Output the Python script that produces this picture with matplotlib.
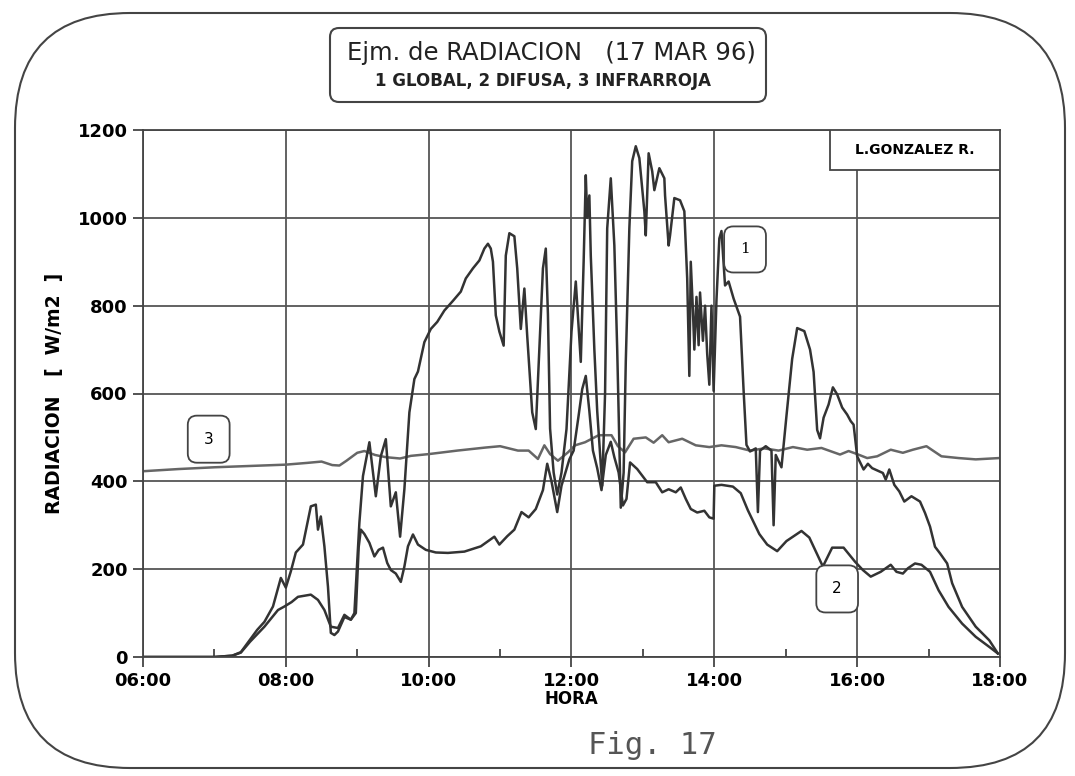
import matplotlib
matplotlib.use("Agg")
import matplotlib.pyplot as plt
from matplotlib.patches import FancyBboxPatch, Rectangle

# ----------------------------
# DATA (hours, W/m2)
# ----------------------------
global_t = [6.0, 7.0, 7.25, 7.37, 7.5, 7.6, 7.7, 7.82, 7.93, 8.0, 8.07, 8.14, 8.24, 8.35, 8.42,
            8.45, 8.49, 8.54, 8.59, 8.63, 8.68, 8.73, 8.82, 8.91, 8.96, 9.03, 9.08, 9.17, 9.26,
            9.33, 9.40, 9.47, 9.54, 9.60, 9.66, 9.73, 9.80, 9.85, 9.94, 10.03, 10.12, 10.22,
            10.34, 10.45, 10.52, 10.62, 10.71, 10.78, 10.83, 10.87, 10.90, 10.94, 10.99, 11.05,
            11.08, 11.13, 11.20, 11.24, 11.29, 11.34, 11.38, 11.45, 11.50, 11.55, 11.60, 11.64,
            11.67, 11.70, 11.75, 11.80, 11.86, 11.93, 12.0, 12.06, 12.13, 12.17, 12.20, 12.22,
            12.25, 12.27, 12.32, 12.36, 12.43, 12.47, 12.50, 12.55, 12.60, 12.64, 12.69, 12.73,
            12.76, 12.81, 12.85, 12.90, 12.95, 13.02, 13.04, 13.08, 13.13, 13.16, 13.23, 13.30,
            13.31, 13.36, 13.38, 13.44, 13.52, 13.58, 13.62, 13.65, 13.67, 13.70, 13.72, 13.75,
            13.78, 13.80, 13.84, 13.87, 13.90, 13.93, 13.96, 13.99, 14.03, 14.07, 14.10, 14.15,
            14.20, 14.27, 14.36, 14.41, 14.45, 14.50, 14.58, 14.61, 14.64, 14.72, 14.80, 14.83,
            14.86, 14.94, 15.01, 15.09, 15.16, 15.26, 15.34, 15.39, 15.44, 15.48, 15.53, 15.60,
            15.66, 15.72, 15.79, 15.86, 15.91, 15.95, 16.0, 16.09, 16.15, 16.21, 16.36, 16.40,
            16.45, 16.52, 16.59, 16.66, 16.76, 16.88, 16.95, 17.02, 17.09, 17.16, 17.26, 17.33,
            17.47, 17.66, 17.85, 17.97]
global_v = [0, 0, 3, 11, 40, 62, 80, 115, 180, 158, 195, 238, 256, 343, 347,
            290, 320, 252, 160, 55, 50, 58, 91, 85, 100, 306, 412, 489, 366,
            457, 496, 343, 375, 274, 382, 557, 633, 650, 717, 747, 763, 789,
            811, 832, 862, 885, 903, 930, 941, 930, 900, 778, 741, 709,
            914, 965, 958, 885, 747, 839, 731, 557, 519, 700, 885, 930,
            780, 520, 420, 370, 420, 519, 741, 855, 672, 900, 1097, 1000,
            1051, 914, 700, 560, 390, 600, 976, 1090, 937, 700, 340, 420,
            672, 976, 1129, 1163, 1136, 1015, 960, 1147, 1106, 1063, 1113, 1090,
            1051, 937, 960, 1045, 1040, 1015, 862, 640, 900, 790, 700, 820,
            710, 830, 720, 800, 690, 620, 800, 606, 813, 953, 970, 846,
            855, 816, 775, 606, 483, 468, 475, 330, 470, 480, 470, 300,
            460, 432, 549, 679, 749, 742, 700, 649, 517, 498, 545, 575,
            614, 598, 568, 552, 537, 529, 457, 427, 440, 430, 419, 404,
            427, 392, 377, 354, 366, 354, 328, 297, 251, 236, 213, 168,
            114, 69, 38, 8]

difusa_t = [6.0, 7.0, 7.25, 7.37, 7.5, 7.7, 7.89, 7.98, 8.08, 8.17, 8.35, 8.45, 8.54, 8.63,
            8.73, 8.82, 8.91, 8.98, 9.02, 9.05, 9.1, 9.17, 9.24, 9.30, 9.36, 9.42, 9.47, 9.54,
            9.61, 9.66, 9.71, 9.78, 9.85, 9.96, 10.1, 10.27, 10.5, 10.73, 10.92, 10.99, 11.1,
            11.2, 11.3, 11.4, 11.5, 11.6, 11.66, 11.72, 11.8, 11.86, 11.97, 12.03, 12.1, 12.15,
            12.2, 12.25, 12.3, 12.36, 12.42, 12.48, 12.55, 12.6, 12.66, 12.72, 12.77, 12.82,
            12.92, 13.06, 13.18, 13.27, 13.36, 13.46, 13.53, 13.60, 13.67, 13.76, 13.86, 13.93,
            13.99, 14.0, 14.10, 14.26, 14.37, 14.47, 14.63, 14.74, 14.88, 15.01, 15.22, 15.33,
            15.52, 15.65, 15.81, 15.97, 16.08, 16.19, 16.33, 16.47, 16.55, 16.64, 16.71, 16.81,
            16.90, 17.02, 17.14, 17.28, 17.47, 17.66, 17.85, 17.97]
difusa_v = [0, 0, 3, 10, 35, 69, 107, 115, 125, 137, 142, 130, 107, 69,
            66, 96, 85, 100, 250, 290, 280, 260, 229, 244, 249, 214, 198, 190,
            171, 206, 252, 279, 256, 244, 238, 237, 240, 252, 274, 256, 275,
            290, 330, 318, 337, 380, 440, 400, 330, 390, 450, 470, 550, 610,
            640, 560, 470, 430, 380, 460, 490, 455, 420, 345, 360, 443,
            428, 398, 398, 375, 382, 375, 386, 360, 337, 329, 333, 318,
            315, 390, 392, 388, 373, 334, 280, 256, 241, 264, 287, 272,
            206, 249, 249, 217, 198, 183, 194, 210, 194, 190, 202, 213,
            210, 194, 152, 114, 76, 46, 23, 8]

infra_t = [6.0, 6.5, 7.0, 7.5, 8.0, 8.3, 8.5, 8.65, 8.75, 8.85, 9.0, 9.1, 9.25, 9.4, 9.6,
           9.75, 10.0, 10.4, 10.8, 11.0, 11.25, 11.4, 11.53, 11.62, 11.7, 11.81, 11.95, 12.05,
           12.19, 12.38, 12.56, 12.65, 12.75, 12.87, 13.04, 13.15, 13.27, 13.36, 13.55, 13.74,
           13.93, 14.1, 14.3, 14.5, 14.7, 14.9, 15.1, 15.3, 15.5, 15.76, 15.88, 16.0, 16.14,
           16.28, 16.47, 16.64, 16.78, 16.97, 17.07, 17.18, 17.42, 17.66, 17.99]
infra_v = [423, 428, 432, 435, 438, 442, 445, 437, 436, 447, 465, 469, 460, 455, 452,
           458, 462, 470, 477, 480, 470, 470, 451, 482, 462, 447, 466, 482,
           489, 505, 505, 480, 466, 497, 500, 488, 505, 489, 497, 482,
           478, 482, 478, 470, 475, 470, 478, 472, 476, 461, 469, 462, 453,
           457, 472, 465, 472, 480, 469, 457, 453, 450, 453]

hour_ticks = [6, 8, 10, 12, 14, 16, 18]
hour_labels = ["06:00", "08:00", "10:00", "12:00", "14:00", "16:00", "18:00"]
hour_minor = [7, 9, 11, 13, 15, 17]
rad_ticks = [0, 200, 400, 600, 800, 1000, 1200]

ink = "#333333"

# ----------------------------
# FIGURE + DECORATION LAYER (pixel units)
# ----------------------------
fig = plt.figure(figsize=(10.75, 7.76), dpi=100)
bg = fig.add_axes([0, 0, 1, 1])
bg.set_xlim(0, 1075)
bg.set_ylim(776, 0)
bg.axis("off")

bg.add_patch(FancyBboxPatch((15, 13), 1050, 755, boxstyle="round,pad=0,rounding_size=115",
                            fc="none", ec="#444444", lw=1.5))
bg.add_patch(FancyBboxPatch((330, 28), 436, 74, boxstyle="round,pad=0,rounding_size=9",
                            fc="none", ec="#444444", lw=1.5))
bg.text(551, 53, "Ejm. de RADIACION   (17 MAR 96)", ha="center", va="center",
        fontsize=17.5, color="#222222")
bg.text(543, 81, "1 GLOBAL, 2 DIFUSA, 3 INFRARROJA", ha="center", va="center",
        fontsize=12, fontweight="bold", color="#222222")
bg.text(652, 746, "Fig. 17", ha="center", va="center", fontsize=22,
        family="DejaVu Sans Mono", color="#555555")

# ----------------------------
# PLOT
# ----------------------------
ax = fig.add_axes([143 / 1075, 1 - 657 / 776, 857 / 1075, 527 / 776])

ax.plot(infra_t, infra_v, color="#666666", lw=1.8)
ax.plot(difusa_t, difusa_v, color=ink, lw=1.8)
ax.plot(global_t, global_v, color=ink, lw=1.8)

ax.set_xlim(6, 18)
ax.set_ylim(0, 1200)
ax.set_xticks(hour_ticks)
ax.set_xticklabels(hour_labels)
ax.set_xticks(hour_minor, minor=True)
ax.set_yticks(rad_ticks)

ax.grid(True, which="major", color="#555555", lw=1.3)
ax.set_axisbelow(True)
for s in ax.spines.values():
    s.set_color("#444444")
    s.set_linewidth(1.3)

ax.tick_params(which="major", direction="out", length=7, width=1.3, color="#444444",
               labelsize=13, pad=4)
ax.tick_params(which="minor", direction="in", length=6, width=1.3, color="#444444")
for lab in ax.get_xticklabels() + ax.get_yticklabels():
    lab.set_fontweight("bold")

ax.set_xlabel("HORA", fontsize=12, fontweight="bold", labelpad=0)
ax.set_ylabel("RADIACION   [  W/m2  ]", fontsize=13.5, fontweight="bold", labelpad=10)

# curve labels
box = dict(boxstyle="round,pad=1.05,rounding_size=0.6", fc="white", ec="#444444", lw=1.3)
ax.text(14.43, 928, "1", ha="center", va="center", fontsize=11, family="DejaVu Serif", bbox=box)
ax.text(6.92, 496, "3", ha="center", va="center", fontsize=11, bbox=box)
ax.text(15.72, 155, "2", ha="center", va="center", fontsize=11, bbox=box)

# author box
ax.add_patch(Rectangle((0.8016, 0.924), 0.1984, 0.076, transform=ax.transAxes,
                       fc="white", ec="#444444", lw=1.3, zorder=3))
ax.text(0.9, 0.962, "L.GONZALEZ R.", transform=ax.transAxes, ha="center", va="center",
        fontsize=10, fontweight="bold", zorder=4)

plt.savefig("out.png", dpi=100)
